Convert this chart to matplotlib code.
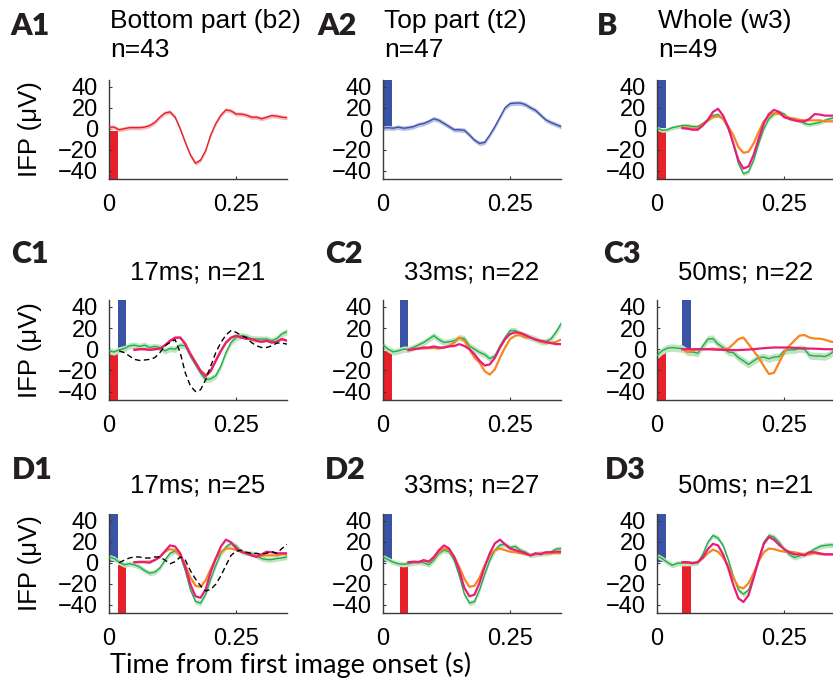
import numpy as np
import matplotlib
matplotlib.use("Agg")
import matplotlib.pyplot as plt

plt.rcParams['font.family'] = ['Liberation Sans', 'DejaVu Sans']

# sample times (s), one every 10 ms over the plotted window
t = np.round(np.arange(36) * 0.01, 2)
t_late = t[5:]   # orange / magenta traces start at 50 ms
t_dash = t[2:]   # dashed reference trace starts at 20 ms

# colours
RED = '#e8202a'
BLUE = '#3a53a4'
ORANGE = '#f6861f'
MAGENTA = '#eb1b7a'
GREEN = '#22ad4b'
LIGHT = {RED: '#f6b9bc', BLUE: '#b8bee4', GREEN: '#bfe4bf'}

# ---- A1 / A2 / B ----
a1_red = [1.5, 1.5, -1, 0, 1, 1, 1, 1.5, 3, 6, 11, 15, 16, 11, 0, -13, -25, -33,
          -30, -21, -6, 5, 13, 18, 17, 14, 14, 13, 11, 11, 9.5, 11, 12.5, 12, 11, 10.5]
a2_blue = [0.5, 1, 0.5, 1.5, 0.5, 1, 2, 4, 5, 7, 9.5, 8, 5, 2, -1, -1, -1.5, -6,
           -11, -14, -13, -6, 2, 11, 20, 24, 24.5, 24.5, 23, 20, 17.5, 13, 8.5, 6, 4, 2]
b_green = [0.5, -1.5, -1, 1, 2, 3, 3, 2, 2, 5, 8.5, 12.5, 13.5, 9.5, 0, -14, -33, -43,
           -41, -30, -14, 0, 9.5, 14, 16, 14, 9.5, 9.5, 8, 5, 4, 5, 6, 8, 9.5, 10.5]
b_orange = [1.5, 0.5, 0, 0, 4, 8, 11, 12, 9.5, 2, -6, -17.5, -23, -22, -14, -3, 7,
            12.5, 15, 14, 12.5, 10.5, 9.5, 8.5, 8, 8, 8, 8, 7, 7, 7]
b_magenta = [0.5, 0, -1, -1, 3, 8.5, 16, 19, 12.5, 1.5, -14, -30, -38, -36, -25, -9.5,
             5, 14, 18, 16, 11, 9.5, 8, 7, 7, 9.5, 14, 13.5, 12.5, 12.5, 12.5]

# ---- C row ----
c1_green = [-1.6, -2.6, -0.6, 0.6, 3.2, 3.8, 2.6, 3.8, 1.6, 2.6, 1.6, -1.6, 0.6, 0, 3.8,
            3.2, -6.4, -14.4, -22.4, -28.8, -28, -25, -16, -3.2, 6.4, 11, 12.8, 12, 10,
            9.6, 9.6, 9.6, 8, 10, 14.4, 16.6]
c1_orange = [-0.6, 0, 0, -0.6, 0, 0.6, 3.5, 7.5, 10.5, 11, 5.5, -4, -12, -20, -24.5, -20,
             -10.5, -1.5, 6, 10.5, 12.5, 11, 10, 9.5, 8, 7, 8, 6.4, 7, 9.6, 8]
c1_magenta = [-0.6, 0, 0, -0.6, 0, 0.6, 3.8, 8, 11, 11, 4.8, -4.8, -12.8, -20.8, -25.6,
              -20.8, -11, -1.6, 6.4, 11, 12.8, 11, 10, 9.6, 8, 7, 8, 6.4, 7, 9.6, 8]
c1_dashed = [-1.6, -3.2, -6.4, -9.6, -10.6, -10.2, -9.6, -8, -3.2, 3.2, 6.4, 9, -3.2,
             -22.4, -34.6, -40, -38.4, -28.8, -16, -3.2, 6.4, 13.4, 17.6, 16, 12.8, 11,
             6.4, 3.2, 1.6, 1.6, 3.2, 5.8, 5.8, 4.8]

c2_green = [3.8, 0, -2.5, -1.6, 0, 0, 1.6, 4, 6.4, 9.6, 12.8, 9, 6.4, 7, 8, 11, 10, 3, 0,
            -3, -5, -9, -6.4, 3, 11, 17.6, 17.6, 14.4, 12.8, 11, 9.6, 7, 7, 9.6, 16, 24]
c2_orange = [-0.6, 0, 0.6, 0.6, 1, 1, 0.6, 1.6, 3, 6.4, 11, 8, 0, -8, -12.8, -20.8, -24,
             -19, -8, 1.6, 9.6, 12.8, 13.4, 11, 11, 9, 7, 5.8, 5.8, 7, 9]
c2_magenta = [-1, 0, 0.6, 1.6, 1.6, 2.6, 1.6, 1.6, 2.6, 3, 4.8, 3, 0, -4.8, -11, -15.4,
              -14.4, -8, 1.6, 9.6, 14.4, 16, 15.4, 13.4, 11, 9, 8, 7, 5.8, 4.8, 4.8]

c3_green = [-5.8, -1.6, 1, 1.6, 1, 0.6, -2.6, -2.6, -3.8, 3, 9.6, 10, 4.8, 1.6, -2.6,
            -3.2, -8, -11, -14.4, -11, -8, -7.4, -9, -7.4, -7, -1.6, -0.6, -0.6, 0.6, 0,
            -5.8, -6.4, -6.4, -7, -4.8, -0.6]
c3_orange = [0, -2.6, -1.6, 0, 0, 0, 0.6, 0, 0, 0.6, 4.8, 9.6, 11, 4.8, -1.6, -8, -16,
             -23.4, -22.4, -12.8, -3.2, 3.2, 8, 12.8, 13.4, 11, 10, 10, 9, 7.4, 6.4]
c3_magenta = [0, 0, 0, 0, 0, 0, -0.3, -0.5, -0.6, -0.8, -0.8, -0.8, -0.6, -0.3, 0, 0.5,
              1, 1.3, 1.6, 1.6, 1.6, 1.6, 1.3, 1, 0.8, 0.6, 0.5, 0.3, 0, 0, 0]

# ---- D row ----
d1_green = [5.5, 4, 0.5, -2, -1, -2, -4, -7.5, -10, -9, -5, 2.5, 9, 11, 7, -7.5, -25.5,
            -37, -38.5, -30, -15.5, -2.5, 9, 15, 18.5, 16, 10.5, 9, 9, 6.5, 4, 3, 3, 4,
            4.5, 5.5]
d1_orange = [0.5, 1, 1, 1, 2.5, 5.5, 10.5, 13, 12, 7, -2.5, -14, -22, -23, -17, -6, 4,
             10.5, 13.5, 13.5, 12, 10.5, 9, 7, 7, 6.5, 7, 7, 7, 8, 8]
d1_magenta = [0.5, 0.5, 0.5, 0, 2.5, 5.5, 11, 16.5, 15.5, 9, -4, -20.5, -32, -33.5,
              -25.5, -9, 4, 15.5, 22, 19.5, 13.5, 10.5, 9, 7, 5.5, 8, 10.5, 10, 9, 9, 9]
d1_dashed = [0, 2.5, 4.5, 5.5, 5.5, 4.5, 4.5, 5.5, 5.5, 2.5, -1, 1, 5.5, 2.5, -7.5,
             -15.5, -22, -27, -25.5, -20.5, -12.5, -2.5, 7, 11, 12, 10, 9, 9, 8, 9,
             10.5, 9, 13.5, 17.5]

d2_green = [5.5, 3, 0.5, -1, -1.5, -1, 0, 0.5, 0, -2, 2.5, 9, 12, 10.5, 2.5, -12.5, -30,
            -38.5, -37, -25.5, -11, 2.5, 12, 17, 17.5, 14.5, 15.5, 12, 10, 7, 8, 9, 9,
            10, 13, 13.5]
d2_orange = [0.5, 0.5, 0.5, 2, 1, 4.5, 10.5, 13.5, 12, 5.5, -4, -15.5, -23, -22, -14,
             -2.5, 7, 12, 13.5, 12, 10.5, 10, 9, 8, 7, 8, 9, 9, 9, 9, 9]
d2_magenta = [0.5, 1, 0.5, 2.5, 1, 5.5, 12, 16.5, 13.5, 5.5, -7.5, -24, -32, -30.5, -19,
              -4, 9, 18.5, 22, 17.5, 13.5, 12, 10.5, 9, 7, 9, 8, 10, 10, 10.5, 10.5]

d3_green = [6.5, 4, 0.5, -2.5, -0.5, -0.5, -0.5, -0.5, 0, 8, 19.5, 26, 23.5, 16.5, 3,
            -13, -26, -30, -26, -13, 3, 19.5, 26, 24.5, 19.5, 13, 8, 5, 6.5, 8, 10, 13,
            15.5, 16.5, 17, 17]
d3_orange = [0, 0, -0.5, 0.5, 4, 9, 12.5, 10.5, 5, -3, -14.5, -23, -24.5, -19.5, -10,
             1.5, 10, 13.5, 13, 11.5, 10.5, 10.5, 10, 9, 8, 8, 9, 8, 8, 8, 8]
d3_magenta = [0.5, 0.5, -0.5, 0.5, 5, 13, 18, 16.5, 8, -5, -21, -34, -37.5, -31, -14.5,
              3, 18, 24.5, 22, 17, 13, 10, 8, 8, 7, 10, 10, 9, 8, 8, 8]

# image presentations: onset of red / blue image in each panel (s), 17 ms each
image_dur = 0.017
red_onsets = {'A1': 0.0, 'A2': None, 'B': 0.0,
              'C1': 0.0, 'C2': 0.0, 'C3': 0.0,
              'D1': 0.017, 'D2': 0.033, 'D3': 0.05}
blue_onsets = {'A1': None, 'A2': 0.0, 'B': 0.0,
               'C1': 0.017, 'C2': 0.033, 'C3': 0.05,
               'D1': 0.0, 'D2': 0.0, 'D3': 0.0}

titles = {'A1': ('Bottom part (b2)', 'n=43'), 'A2': ('Top part (t2)', 'n=47'),
          'B': ('Whole (w3)', 'n=49'),
          'C1': '17ms; n=21', 'C2': '33ms; n=22', 'C3': '50ms; n=22',
          'D1': '17ms; n=25', 'D2': '33ms; n=27', 'D3': '50ms; n=21'}


def three(green, orange, magenta, dashed=None, sem=2.5):
    tr = [(t, green, GREEN, '-', 1.0, sem),
          (t_late, orange, ORANGE, '-', 1.6, 0),
          (t_late, magenta, MAGENTA, '-', 1.6, 0)]
    if dashed is not None:
        tr.append((t_dash, dashed, 'black', '--', 1.0, 0))
    return tr


traces = {
    'A1': [(t, a1_red, RED, '-', 1.0, 2.0)],
    'A2': [(t, a2_blue, BLUE, '-', 1.0, 2.2)],
    'B': three(b_green, b_orange, b_magenta, sem=2.0),
    'C1': three(c1_green, c1_orange, c1_magenta, c1_dashed, sem=3.0),
    'C2': three(c2_green, c2_orange, c2_magenta, sem=3.0),
    'C3': three(c3_green, c3_orange, c3_magenta, sem=3.5),
    'D1': three(d1_green, d1_orange, d1_magenta, d1_dashed, sem=2.5),
    'D2': three(d2_green, d2_orange, d2_magenta, sem=2.5),
    'D3': three(d3_green, d3_orange, d3_magenta, sem=2.5),
}

W, H = 833, 681
fig = plt.figure(figsize=(W / 100, H / 100), dpi=100)

col_x = [109, 383, 657]
row_y = [(80, 179), (300, 400), (514, 613)]
grid = [['A1', 'A2', 'B'], ['C1', 'C2', 'C3'], ['D1', 'D2', 'D3']]
label_x = [[10, 317, 597], [11, 325, 603], [12, 325, 605]]
label_base = [35, 263, 479]
title_base = [None, 279, 492]
ax_w = 178


def fx(x):
    return x / W


def fy(y):
    return 1 - y / H


for r, row in enumerate(grid):
    top, bot = row_y[r]
    for c, key in enumerate(row):
        ax = fig.add_axes([fx(col_x[c]), fy(bot), ax_w / W, (bot - top) / H])
        ax.set_xlim(0, 0.35)
        ax.set_ylim(-48, 46.5)

        if red_onsets[key] is not None:
            ax.bar(red_onsets[key], 60, width=image_dur, bottom=-62, align='edge',
                   color=RED, lw=0, zorder=1)
        if blue_onsets[key] is not None:
            ax.bar(blue_onsets[key], 60, width=image_dur, bottom=0.5, align='edge',
                   color=BLUE, lw=0, zorder=1)

        for tt, yy, col, ls, lw, sem in traces[key]:
            yy = np.asarray(yy, float)
            if sem:
                ax.fill_between(tt, yy - sem, yy + sem, color=LIGHT[col], lw=0, zorder=2)
            ax.plot(tt, yy, color=col, ls=ls, lw=lw, zorder=3,
                    dashes=(4, 2.5) if ls == '--' else (None, None))

        for s in ['top', 'right']:
            ax.spines[s].set_visible(False)
        for s in ['left', 'bottom']:
            ax.spines[s].set_color('#3a3a3a')
            ax.spines[s].set_linewidth(1.0)
        ax.set_yticks([-40, -20, 0, 20, 40])
        ax.set_xticks([0, 0.25])
        ax.set_xticklabels(['0', '0.25'])
        ax.tick_params(direction='in', length=2.5, width=0.8, color='#3a3a3a',
                       labelsize=17)
        ax.tick_params(axis='x', pad=11)
        ax.tick_params(axis='y', pad=8)

        fig.text(fx(label_x[r][c]), fy(label_base[r]), key, fontsize=22,
                 fontweight='heavy', family='Lato', color='#231f20', va='baseline')
        if r == 0:
            fig.text(fx(col_x[c] + 1), fy(28), titles[key][0], fontsize=19,
                     va='baseline')
            fig.text(fx(col_x[c] + 1), fy(57), titles[key][1], fontsize=19,
                     va='baseline')
        else:
            fig.text(fx(col_x[c] + ax_w / 2), fy(title_base[r]), titles[key],
                     fontsize=18.5, ha='center', va='baseline')

    fig.text(fx(30), fy((top + bot) / 2), 'IFP (\u03bcV)', fontsize=18.5,
             rotation=90, ha='center', va='center')

fig.text(fx(110), fy(673), 'Time from first image onset (s)', fontsize=19.5,
         family='Lato', va='baseline')

fig.savefig('out.png', dpi=100)
